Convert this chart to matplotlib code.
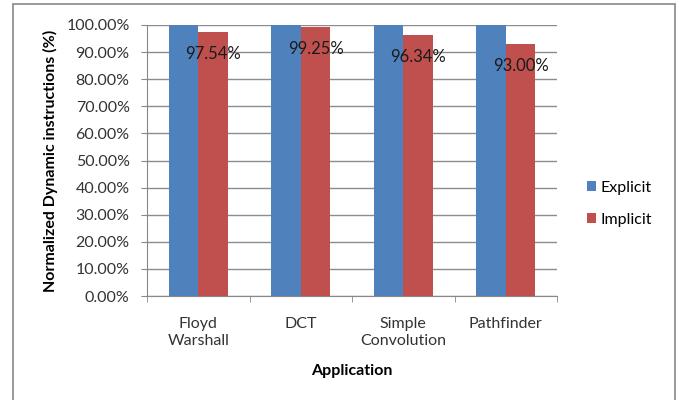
import matplotlib.pyplot as plt
import numpy as np
from matplotlib.patches import Rectangle
from matplotlib.ticker import FuncFormatter

# data
apps = ["Floyd\nWarshall", "DCT", "Simple\nConvolution", "Pathfinder"]
explicit = [100.0, 100.0, 100.0, 100.0]
implicit = [97.54, 99.25, 96.34, 93.00]

plt.rcParams['font.family'] = ['Lato', 'DejaVu Sans']

fig = plt.figure(figsize=(6.81, 4.00), dpi=100)
W, H = 681, 400
ax = fig.add_axes([147 / W, 1 - 296 / H, (557 - 147) / W, (296 - 25) / H])

# outer frame like the office chart area
fig.patches.append(Rectangle((13 / W, -0.02), (675 - 13) / W, 1 - 4 / H + 0.02,
                             transform=fig.transFigure, fill=False,
                             edgecolor="#888888", linewidth=1.2))

x = np.arange(len(apps))
w = 0.29
ax.bar(x - w / 2, explicit, w, color="#4F81BD", label="Explicit", zorder=3)
ax.bar(x + w / 2, implicit, w, color="#C0504D", label="Implicit", zorder=3)

for xi, v in zip(x, implicit):
    ax.annotate(f"{v:.2f}%", (xi + w / 2, v), xytext=(0, -16), textcoords="offset points",
                ha="center", va="center", fontsize=12, color="#1a1a1a", zorder=4)

ax.set_xlim(-0.5, len(apps) - 0.5)
ax.set_ylim(0, 100)
ax.set_yticks(np.arange(0, 101, 10))
ax.yaxis.set_major_formatter(FuncFormatter(lambda v, p: f"{v:.2f}%"))
ax.grid(axis="y", color="#8c8c8c", linewidth=1, zorder=0)

ax.set_xticks(x)
ax.set_xticklabels(apps, fontsize=11.5, color="#333333", linespacing=1.25)
ax.set_xticks(np.arange(-0.5, len(apps)), minor=True)
ax.tick_params(axis="x", which="major", length=0, pad=15)
ax.tick_params(axis="x", which="minor", length=4.5, color="#888888")
ax.tick_params(axis="y", length=4.5, color="#888888", labelsize=11.5, labelcolor="#333333", pad=8)

for s in ["top", "right"]:
    ax.spines[s].set_visible(False)
ax.spines["left"].set_color("#888888")
ax.spines["bottom"].set_color("#888888")

ax.set_xlabel("Application", fontsize=11.5, fontweight="bold", labelpad=12)
ax.set_ylabel("Normalized Dynamic instructions (%)", fontsize=11.5, fontweight="bold", labelpad=6)

ax.legend(loc="center left", bbox_to_anchor=(1.072, 0.34), frameon=False, fontsize=11.5,
          handlelength=0.6, handleheight=0.6, handletextpad=0.3, labelspacing=1.15,
          borderaxespad=0, borderpad=0)

fig.savefig("out.png", dpi=100)
